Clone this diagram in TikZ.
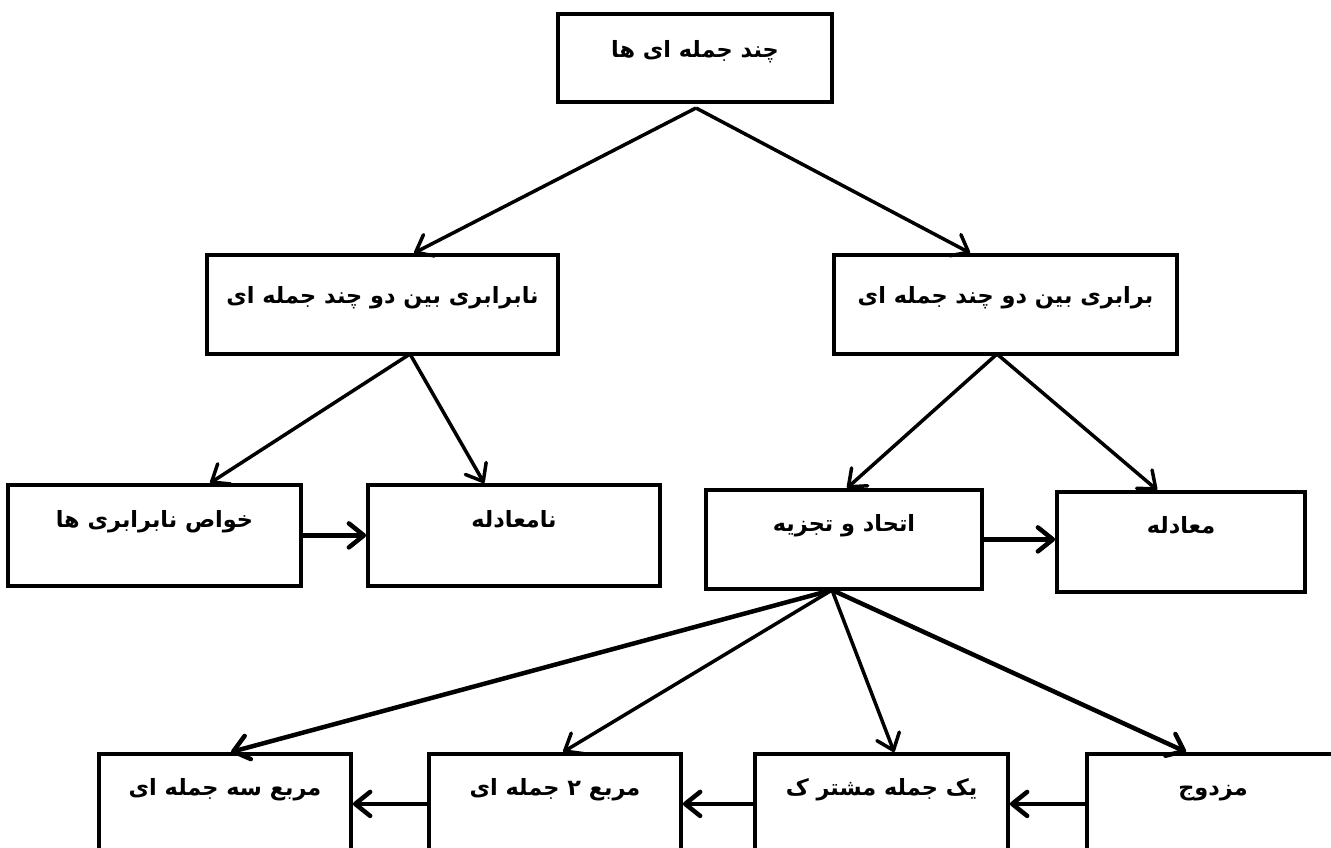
\documentclass[tikz,border=0pt]{standalone}
\usepackage{fontspec}
\newfontfamily\arabicfont[Script=Arabic]{DejaVu Sans}
\TeXXeTstate=1
\usetikzlibrary{arrows.meta,calc}
\begin{document}
\begin{tikzpicture}[x=1bp,y=-1bp,
  box/.style={draw, line width=3.8bp, fill=white, inner sep=0pt, anchor=north,
    font=\arabicfont\bfseries\fontsize{22.5}{26}\selectfont},
  arr/.style={line width=3.5bp, -{Straight Barb[length=15bp,width=24bp,round]}},
  thickarr/.style={arr, line width=4.5bp},
]
\useasboundingbox[fill=white] (0,0) rectangle (1331,847);
% boxes
\node[box, minimum width=274bp, text height=44bp, text depth=44bp] (top) at (695,12) {\beginR چند جمله ای ها\endR};
\node[box, minimum width=351bp, text height=49bp, text depth=50bp] (ineq) at (382.5,253) {\beginR نابرابری بین دو چند جمله ای\endR};
\node[box, minimum width=343bp, text height=49bp, text depth=50bp] (eq) at (1005.5,253) {\beginR برابری بین دو چند جمله ای\endR};
\node[box, minimum width=293bp, text height=43bp, text depth=58bp] (prop) at (154.5,483) {\beginR خواص نابرابری ها\endR};
\node[box, minimum width=292bp, text height=43bp, text depth=58bp] (ineqn) at (514,483) {\beginR نامعادله\endR};
\node[box, minimum width=276bp, text height=42bp, text depth=57bp] (fact) at (844,488) {\beginR اتحاد و تجزیه\endR};
\node[box, minimum width=248bp, text height=42bp, text depth=58bp] (equ) at (1181,490) {\beginR معادله\endR};
\node[box, minimum width=252bp, text height=42bp, text depth=58bp] (sq3) at (225,752) {\beginR مربع سه جمله ای\endR};
\node[box, minimum width=252bp, text height=42bp, text depth=58bp] (sq2) at (555,752) {\beginR مربع ۲ جمله ای\endR};
\node[box, minimum width=253bp, text height=42bp, text depth=58bp] (common) at (881.5,752) {\beginR یک جمله مشتر ک\endR};
\node[box, minimum width=252bp, text height=42bp, text depth=58bp] (conj) at (1213,752) {\beginR مزدوج\endR};
% apex points
\coordinate (a1) at (696,108);
\coordinate (a2) at (410,354);
\coordinate (a3) at (997,354);
\coordinate (a4) at (832,590);
% connectors
\draw[arr] (a1) -- ($(ineq.north west)+(209,0)$);
\draw[arr] (a1) -- ($(eq.north west)+(138,0)$);
\draw[arr] (a2) -- ($(prop.north west)+(204,0)$);
\draw[arr] (a2) -- ($(ineqn.north west)+(118,0)$);
\draw[arr] (a3) -- ($(fact.north west)+(143,0)$);
\draw[arr] (a3) -- ($(equ.north west)+(102,0)$);
\draw[thickarr] (prop.east) -- (ineqn.west);
\draw[thickarr] (fact.east) -- (fact.east -| equ.west);
\draw[thickarr] (a4) -- ($(sq3.north west)+(134,0)$);
\draw[arr] (a4) -- ($(sq2.north west)+(136,0)$);
\draw[arr] (a4) -- ($(common.north west)+(141,0)$);
\draw[thickarr] (a4) -- ($(conj.north west)+(101,0)$);
\draw[thickarr] (conj.west) -- (common.east);
\draw[thickarr] (common.west) -- (sq2.east);
\draw[thickarr] (sq2.west) -- (sq3.east);
\end{tikzpicture}
\end{document}
